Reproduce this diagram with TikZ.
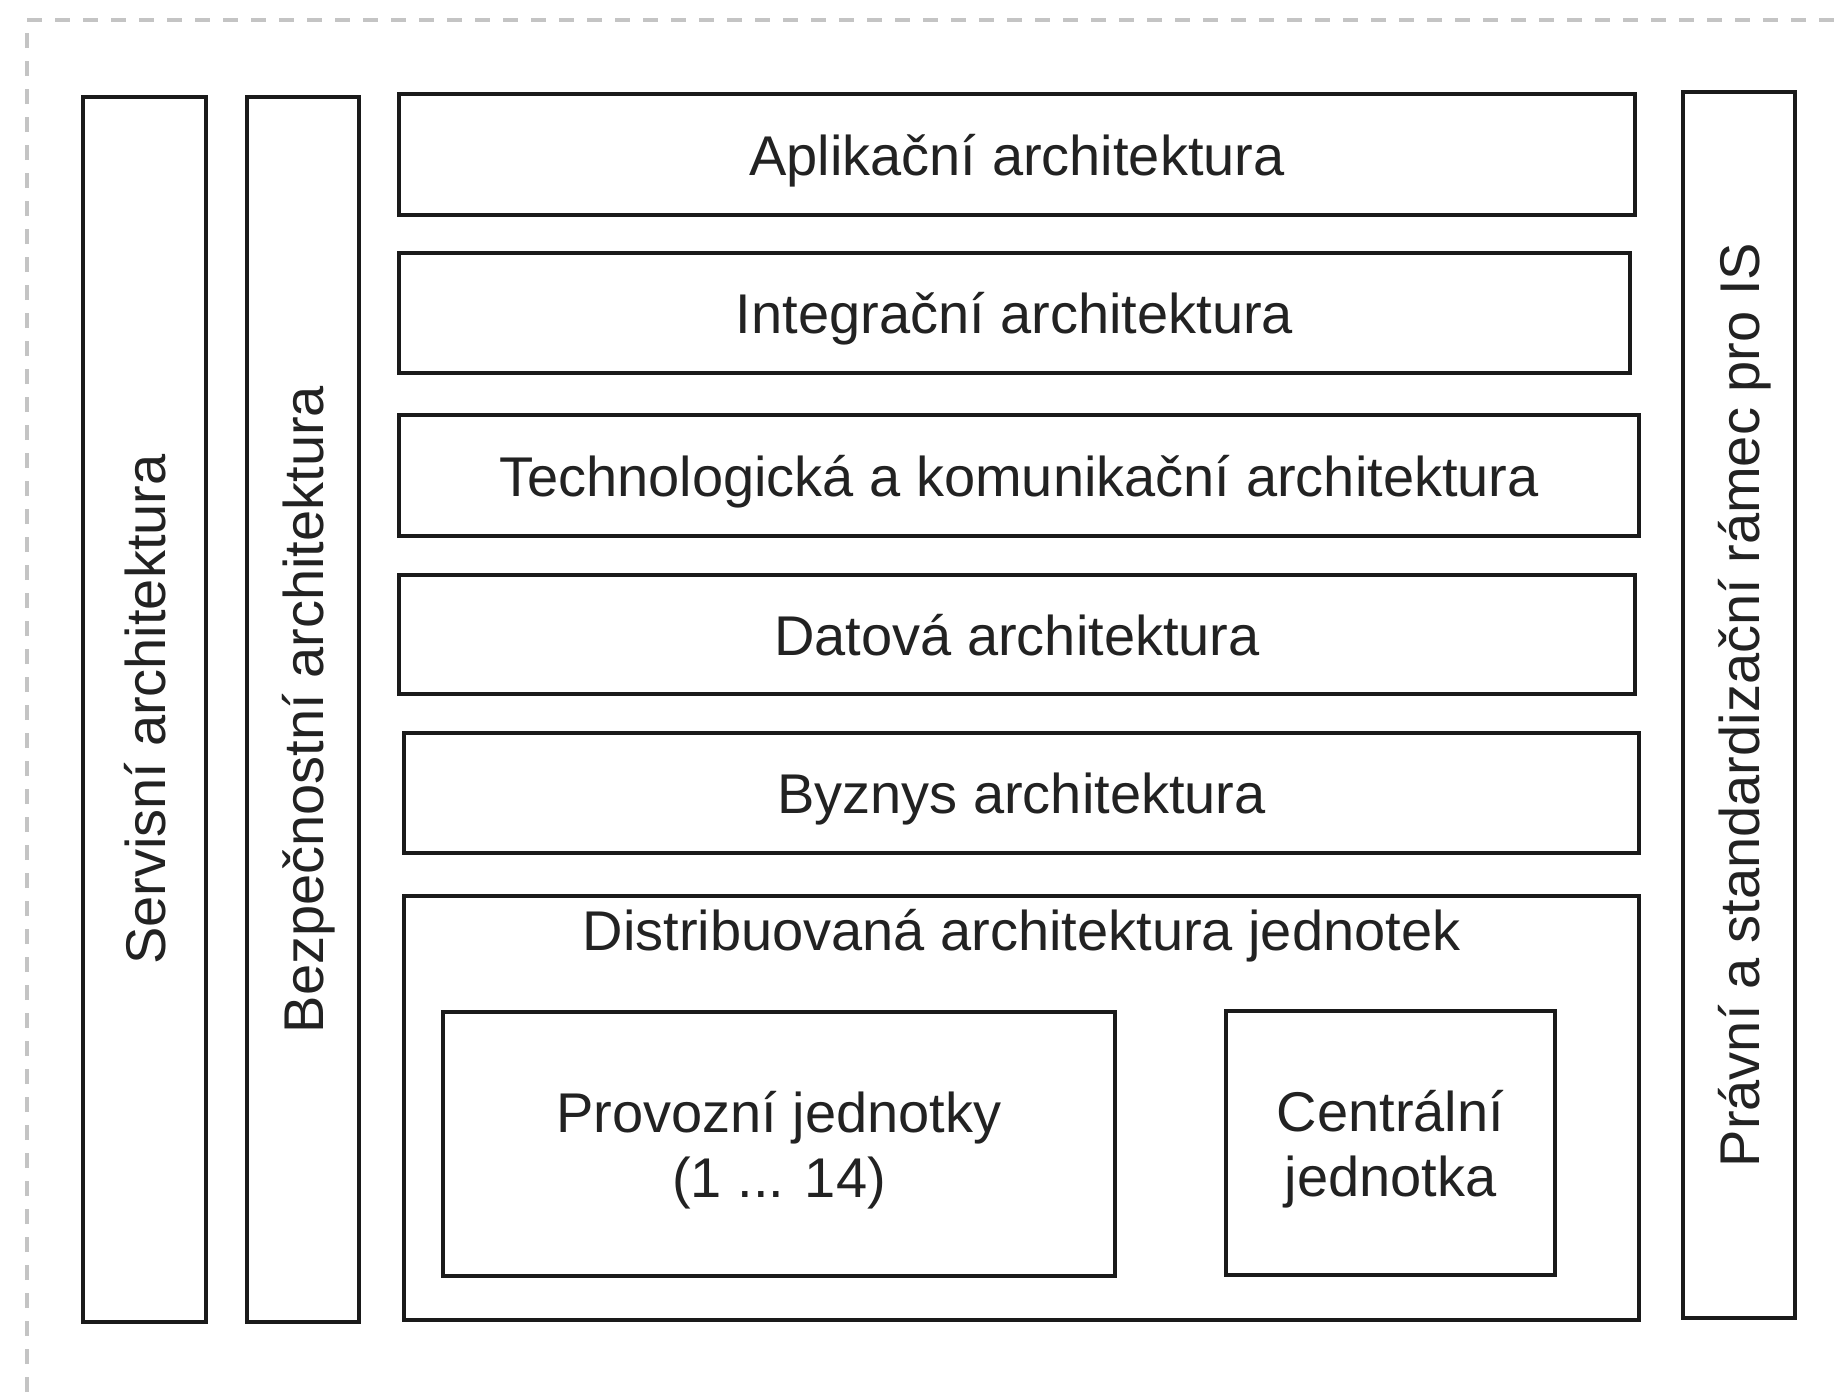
\documentclass[tikz,border=0pt]{standalone}
\usepackage{fontspec}
\setmainfont{Liberation Sans}
\definecolor{linec}{HTML}{1A1A1A}
\definecolor{textc}{HTML}{222222}
\definecolor{framec}{HTML}{C4C4C4}
\begin{document}
\begin{tikzpicture}[x=0.5pt,y=-0.5pt,
  box/.style={draw=linec, line width=1.6pt, rectangle, inner sep=0pt, text=textc,
    font=\fontsize{28}{32.5}\selectfont, align=center, text depth=0pt},
  frameline/.style={draw=framec, line width=2.2pt, dash pattern=on 7.5pt off 6.5pt},
  title/.style={text=textc, font=\fontsize{28}{32.5}\selectfont, inner sep=0pt}]
\useasboundingbox (0,0) rectangle (1845,1392);
% dashed outer frame (open to right and bottom)
\coordinate (fbl) at (27,1392);
\coordinate (fc) at (27,20);
\coordinate (ftr) at (1845,20);
\draw[frameline] (fbl) -- (fc) -- (ftr);
% vertical columns
\node[box, rotate=90, minimum width=612.5pt, minimum height=61.5pt] (serv) at (144.5,709.5) {Servisní architektura};
\node[box, rotate=90, minimum width=612.5pt, minimum height=56pt] (bezp) at (303,709.5) {Bezpečnostní architektura};
\node[box, rotate=90, minimum width=613pt, minimum height=56pt] (prav) at (1739,705) {Právní a standardizační rámec pro IS};
% horizontal layers
\node[box, minimum width=618pt, minimum height=60.5pt] (apl) at (1017,154.5) {Aplikační architektura};
\node[box, minimum width=615.5pt, minimum height=60pt] (integ) at (1014.5,313) {Integrační architektura};
\node[box, minimum width=620pt, minimum height=60.5pt] (tech) at (1019,475.5) {Technologická a komunikační architektura};
\node[box, minimum width=618pt, minimum height=59.5pt] (dat) at (1017,634.5) {Datová architektura};
\node[box, minimum width=617.5pt, minimum height=60pt] (byz) at (1021.5,793) {Byznys architektura};
\node[box, minimum width=617.5pt, minimum height=212pt] (dist) at (1021.5,1108) {};
\node[title, anchor=base] (distt) at (1021.5,950) {Distribuovaná architektura jednotek};
\node[box, minimum width=336pt, minimum height=132pt] (prov) at (779,1144) {Provozní jednotky\\(1 ... 14)};
\node[box, minimum width=164.5pt, minimum height=132pt] (cent) at (1390.5,1143) {Centrální\\jednotka};
\end{tikzpicture}
\end{document}
